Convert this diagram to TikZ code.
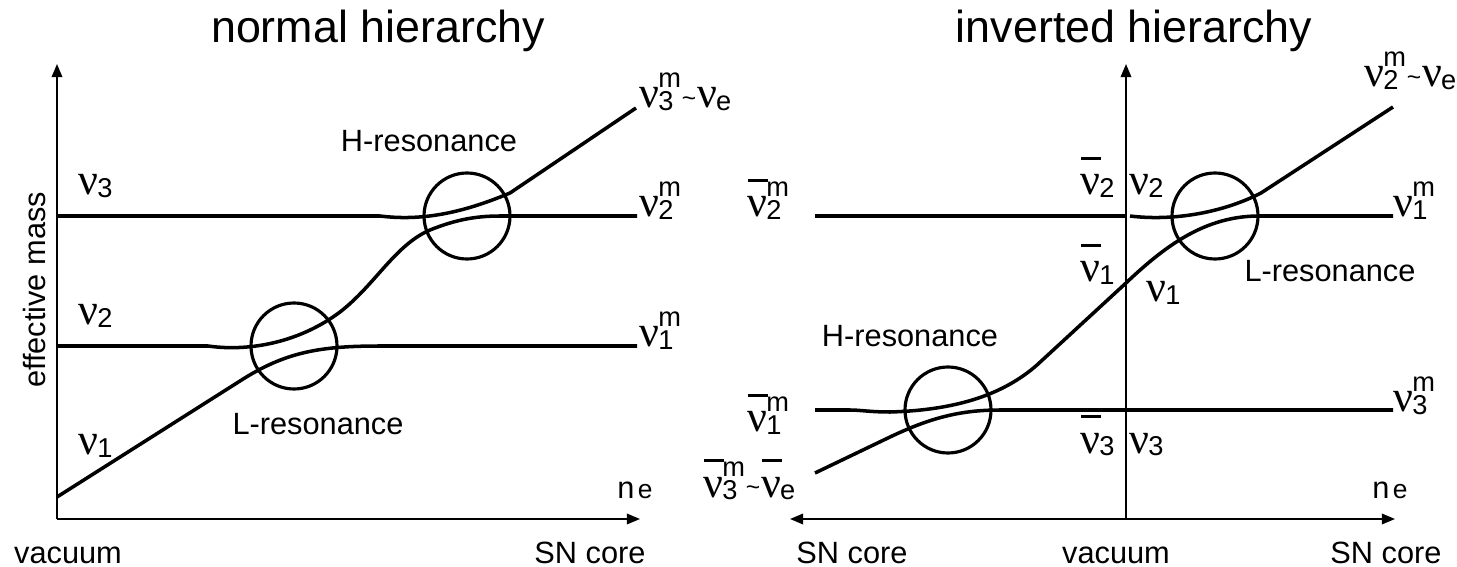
\documentclass[tikz,border=0pt]{standalone}
\usepackage{fontspec}
\setmainfont{Liberation Sans}
\newfontfamily\nufont{Liberation Serif}
\usetikzlibrary{arrows.meta}

% neutrino symbol, barred symbol and stacked index (sub, sup)
\newcommand\nusym{{\nufont\fontsize{25}{25}\selectfont ν}}
\newcommand\nubar{\makebox[0pt][l]{\kern0.5pt\raisebox{20pt}{\rule{11.5pt}{1.4pt}}}\nusym}
\newcommand\idx[2]{\kern-0.5pt\raisebox{-1.5pt}{\fontsize{15.5}{15.5}\selectfont
  \begin{tabular}[b]{@{}l@{}}#2\\[-2.5pt]#1\end{tabular}}}
\newcommand\tld{\kern0.5pt{\fontsize{14}{14}\selectfont\raisebox{1pt}{\textasciitilde}}\kern0.5pt}

\begin{document}
\begin{tikzpicture}[x=0.02cm, y=-0.02cm,
    >={Triangle[length=7.5pt, width=6pt]},
    lvl/.style={line width=2pt},
    ax/.style={line width=1.1pt},
    res/.style={line width=1.8pt},
    txt/.style={inner sep=0pt, anchor=base, font=\fontsize{17.5}{17.5}\selectfont},
    title/.style={inner sep=0pt, anchor=base, font=\fontsize{25.5}{25.5}\selectfont},
    nlab/.style={inner sep=0pt, anchor=base west}]
  \useasboundingbox (0,0) rectangle (1457,567);

  % normal hierarchy
  \node[title] (tn) at (378,43) {normal hierarchy};
  \draw[ax,->] (57,519) -- (57,64);
  \draw[ax,->] (57,519) -- (640,519);
  \node[txt, anchor=center, rotate=90] (em) at (35,290) {effective mass};
  \node[txt] (vac) at (68,563) {vacuum};
  \node[txt] (snl) at (590,563) {SN core};
  \node[txt] (nel) at (635,498) {n\kern2pt{\fontsize{15}{15}\selectfont e}};
  \draw[lvl] (57,497) -- (240,381) .. controls (285,352) and (320,346) .. (380,346) -- (637,346);
  \draw[lvl] (57,346) -- (208,346) .. controls (250,352) and (300,342) .. (340,312)
    .. controls (375,285) and (395,245) .. (430,230) .. controls (455,220) and (475,216) .. (500,216) -- (637,216);
  \draw[lvl] (57,216) -- (380,216) .. controls (420,221) and (460,214) .. (510,193) -- (636,108);
  \draw[res] (467,216) circle [radius=43];
  \draw[res] (294,346) circle [radius=43];
  \node[txt] (hrl) at (429,152) {H-resonance};
  \node[txt] (lrl) at (318,435) {L-resonance};
  \node[nlab] (n3) at (78,195) {\nusym\idx{3}{}};
  \node[nlab] (n2) at (78,325) {\nusym\idx{2}{}};
  \node[nlab] (n1) at (78,455) {\nusym\idx{1}{}};
  \node[nlab] (n3m) at (639,108) {\nusym\idx{3}{m}\tld\nusym\idx{e}{}};
  \node[nlab] (n2m) at (639,217) {\nusym\idx{2}{m}};
  \node[nlab] (n1m) at (639,347) {\nusym\idx{1}{m}};

  % inverted hierarchy
  \node[title] (ti) at (1134,43) {inverted hierarchy};
  \draw[ax,->] (1126,519) -- (1126,64);
  \draw[ax,<->] (790,519) -- (1395,519);
  \node[txt] (snr1) at (852,563) {SN core};
  \node[txt] (vacr) at (1116,563) {vacuum};
  \node[txt] (snr2) at (1386,563) {SN core};
  \node[txt] (ner) at (1390,498) {n\kern2pt{\fontsize{15}{15}\selectfont e}};
  \draw[lvl] (815,216) -- (1126,216);
  \draw[lvl] (1130,216) .. controls (1170,221) and (1220,214) .. (1261,193) -- (1393,107);
  \draw[lvl] (1393,216) -- (1259,216) .. controls (1205,216) and (1165,246) .. (1126,283) -- (1037,365)
    .. controls (1005,393) and (960,410) .. (890,412) .. controls (870,412) and (860,410) .. (850,410) -- (815,410);
  \draw[lvl] (815,473) -- (890,437) .. controls (930,418) and (960,410) .. (1000,410) -- (1393,410);
  \draw[res] (1215,216) circle [radius=43];
  \draw[res] (948,410) circle [radius=43];
  \node[txt] (hrr) at (910,347) {H-resonance};
  \node[txt] (lrr) at (1330,282) {L-resonance};
  \node[nlab] (b2m) at (747,217) {\nubar\idx{2}{m}};
  \node[nlab] (b2) at (1080,195) {\nubar\idx{2}{}};
  \node[nlab] (r2) at (1129,195) {\nusym\idx{2}{}};
  \node[nlab] (b1) at (1080,282) {\nubar\idx{1}{}};
  \node[nlab] (r1) at (1146,302) {\nusym\idx{1}{}};
  \node[nlab] (r2m) at (1364,87) {\nusym\idx{2}{m}\tld\nusym\idx{e}{}};
  \node[nlab] (r1m) at (1393,217) {\nusym\idx{1}{m}};
  \node[nlab] (r3m) at (1393,412) {\nusym\idx{3}{m}};
  \node[nlab] (b1m) at (747,432) {\nubar\idx{1}{m}};
  \node[nlab] (b3m) at (703,497) {\nubar\idx{3}{m}\tld\nubar\idx{e}{}};
  \node[nlab] (b3) at (1080,453) {\nubar\idx{3}{}};
  \node[nlab] (r3) at (1129,453) {\nusym\idx{3}{}};
\end{tikzpicture}
\end{document}
